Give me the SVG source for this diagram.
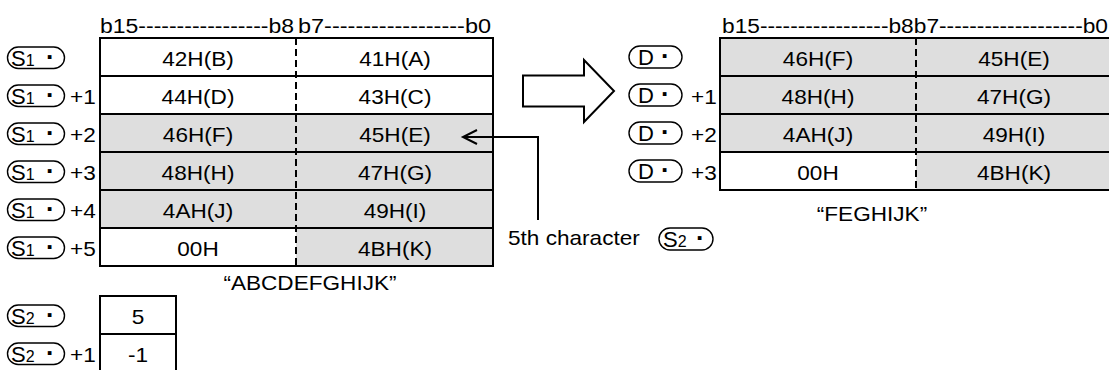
<svg xmlns="http://www.w3.org/2000/svg" width="1109" height="370" viewBox="0 0 1109 370">
<style>
  text { font-family: "Liberation Sans", Arial, sans-serif; font-size: 20px; fill: #000; }
  .mid { text-anchor: middle; }
  .grid { stroke: #000; stroke-width: 2; fill: none; }
  .div { stroke: #000; stroke-width: 2; stroke-dasharray: 7 4; fill: none; }
  .gray { fill: #dedede; }
  .white { fill: #fff; }
  .pill { fill: #fff; stroke: #000; stroke-width: 1.4; }
  .big { font-size: 22px; }
  .sub { font-size: 16px; }
  .dot { font-weight: bold; font-size: 26px; }
  .conn { stroke: #000; stroke-width: 2; fill: none; }
</style>
<rect width="1109" height="370" fill="#fff"/>

<!-- headers -->
<text x="100" y="33" textLength="194" lengthAdjust="spacingAndGlyphs">b15-----------------b8</text>
<text x="298" y="33" textLength="193" lengthAdjust="spacingAndGlyphs">b7------------------b0</text>
<text x="722" y="33" textLength="386" lengthAdjust="spacingAndGlyphs">b15-----------------b8b7-------------------b0</text>

<!-- Left table S1 -->
<g id="table-s1">
  <rect class="white" x="100" y="38" width="393" height="228"/>
  <rect class="gray" x="100" y="114" width="393" height="114"/>
  <rect class="gray" x="296" y="228" width="197" height="38"/>
  <path class="grid" d="M100 76H493M100 114H493M100 152H493M100 190H493M100 228H493"/>
  <path class="div" d="M296 38V266"/>
  <rect class="grid" x="100" y="38" width="393" height="228"/>
  <text class="mid" transform="translate(198 66) scale(1.13 1)">42H(B)</text>
  <text class="mid" transform="translate(395 66) scale(1.13 1)">41H(A)</text>
  <text class="mid" transform="translate(198 104) scale(1.13 1)">44H(D)</text>
  <text class="mid" transform="translate(395 104) scale(1.13 1)">43H(C)</text>
  <text class="mid" transform="translate(198 142) scale(1.13 1)">46H(F)</text>
  <text class="mid" transform="translate(395 142) scale(1.13 1)">45H(E)</text>
  <text class="mid" transform="translate(198 180) scale(1.13 1)">48H(H)</text>
  <text class="mid" transform="translate(395 180) scale(1.13 1)">47H(G)</text>
  <text class="mid" transform="translate(198 218) scale(1.13 1)">4AH(J)</text>
  <text class="mid" transform="translate(395 218) scale(1.13 1)">49H(I)</text>
  <text class="mid" transform="translate(198 256) scale(1.13 1)">00H</text>
  <text class="mid" transform="translate(395 256) scale(1.13 1)">4BH(K)</text>
  <text class="mid" transform="translate(310 290) scale(1.13 1)">“ABCDEFGHIJK”</text>
</g>

<!-- S1 labels -->
<g id="labels-s1">
  <rect class="pill" x="7.5" y="47" width="57" height="21.5" rx="10.75"/>
  <text class="big" x="11" y="65.5">S<tspan class="sub">1</tspan></text><text class="dot" x="46" y="66">·</text>
  <rect class="pill" x="7.5" y="85" width="57" height="21.5" rx="10.75"/>
  <text class="big" x="11" y="103.5">S<tspan class="sub">1</tspan></text><text class="dot" x="46" y="104">·</text>
  <text transform="translate(70 104) scale(1.13 1)">+1</text>
  <rect class="pill" x="7.5" y="123" width="57" height="21.5" rx="10.75"/>
  <text class="big" x="11" y="141.5">S<tspan class="sub">1</tspan></text><text class="dot" x="46" y="142">·</text>
  <text transform="translate(70 142) scale(1.13 1)">+2</text>
  <rect class="pill" x="7.5" y="161" width="57" height="21.5" rx="10.75"/>
  <text class="big" x="11" y="179.5">S<tspan class="sub">1</tspan></text><text class="dot" x="46" y="180">·</text>
  <text transform="translate(70 180) scale(1.13 1)">+3</text>
  <rect class="pill" x="7.5" y="199" width="57" height="21.5" rx="10.75"/>
  <text class="big" x="11" y="217.5">S<tspan class="sub">1</tspan></text><text class="dot" x="46" y="218">·</text>
  <text transform="translate(70 218) scale(1.13 1)">+4</text>
  <rect class="pill" x="7.5" y="237" width="57" height="21.5" rx="10.75"/>
  <text class="big" x="11" y="255.5">S<tspan class="sub">1</tspan></text><text class="dot" x="46" y="256">·</text>
  <text transform="translate(70 256) scale(1.13 1)">+5</text>
</g>

<!-- S2 table -->
<g id="table-s2">
  <rect class="white" x="100" y="296" width="76" height="80"/>
  <path class="grid" d="M100 334H176"/>
  <rect class="grid" x="100" y="296" width="76" height="80"/>
  <text class="mid" transform="translate(138 324) scale(1.13 1)">5</text>
  <text class="mid" transform="translate(138 362) scale(1.13 1)">-1</text>
</g>
<g id="labels-s2">
  <rect class="pill" x="7.5" y="305" width="57" height="21.5" rx="10.75"/>
  <text class="big" x="11" y="323.5">S<tspan class="sub">2</tspan></text><text class="dot" x="46" y="324">·</text>
  <rect class="pill" x="7.5" y="343" width="57" height="21.5" rx="10.75"/>
  <text class="big" x="11" y="361.5">S<tspan class="sub">2</tspan></text><text class="dot" x="46" y="362">·</text>
  <text transform="translate(70 362) scale(1.13 1)">+1</text>
</g>

<!-- big hollow arrow -->
<g id="transfer-arrow">
  <polygon points="523,75.5 584,75.5 584,60 614,91 584,122 584,106.5 523,106.5" fill="#fff" stroke="#000" stroke-width="2" stroke-linejoin="miter"/>
</g>

<!-- Right table D -->
<g id="table-d">
  <rect class="gray" x="720" y="38" width="395" height="152"/>
  <rect class="white" x="720" y="152" width="196" height="38"/>
  <path class="grid" d="M720 76H1115M720 114H1115M720 152H1115"/>
  <path class="div" d="M916 38V190"/>
  <rect class="grid" x="720" y="38" width="395" height="152"/>
  <text class="mid" transform="translate(818 66) scale(1.13 1)">46H(F)</text>
  <text class="mid" transform="translate(1014 66) scale(1.13 1)">45H(E)</text>
  <text class="mid" transform="translate(818 104) scale(1.13 1)">48H(H)</text>
  <text class="mid" transform="translate(1014 104) scale(1.13 1)">47H(G)</text>
  <text class="mid" transform="translate(818 142) scale(1.13 1)">4AH(J)</text>
  <text class="mid" transform="translate(1014 142) scale(1.13 1)">49H(I)</text>
  <text class="mid" transform="translate(818 180) scale(1.13 1)">00H</text>
  <text class="mid" transform="translate(1014 180) scale(1.13 1)">4BH(K)</text>
  <text class="mid" transform="translate(872 221) scale(1.13 1)">“FEGHIJK”</text>
</g>
<g id="labels-d">
  <rect class="pill" x="629" y="46" width="53" height="22" rx="11"/>
  <text class="big" x="638" y="64.5">D</text><text class="dot" x="661" y="65">·</text>
  <rect class="pill" x="629" y="84" width="53" height="22" rx="11"/>
  <text class="big" x="638" y="102.5">D</text><text class="dot" x="661" y="103">·</text>
  <text transform="translate(691 104) scale(1.13 1)">+1</text>
  <rect class="pill" x="629" y="122" width="53" height="22" rx="11"/>
  <text class="big" x="638" y="140.5">D</text><text class="dot" x="661" y="141">·</text>
  <text transform="translate(691 142) scale(1.13 1)">+2</text>
  <rect class="pill" x="629" y="160" width="53" height="22" rx="11"/>
  <text class="big" x="638" y="178.5">D</text><text class="dot" x="661" y="179">·</text>
  <text transform="translate(691 180) scale(1.13 1)">+3</text>
</g>

<!-- 5th character pointer -->
<g id="pointer-label">
  <text transform="translate(508 245) scale(1.13 1)">5th character</text>
  <rect class="pill" x="659" y="228" width="54" height="22" rx="11"/>
  <text class="big" x="663" y="246.5">S<tspan class="sub">2</tspan></text><text class="dot" x="696" y="247">·</text>
</g>

<g id="connectors">
  <path class="conn" d="M538 220V137H463"/>
  <path class="conn" d="M477 130L463 137L477 144"/>
</g>
</svg>
